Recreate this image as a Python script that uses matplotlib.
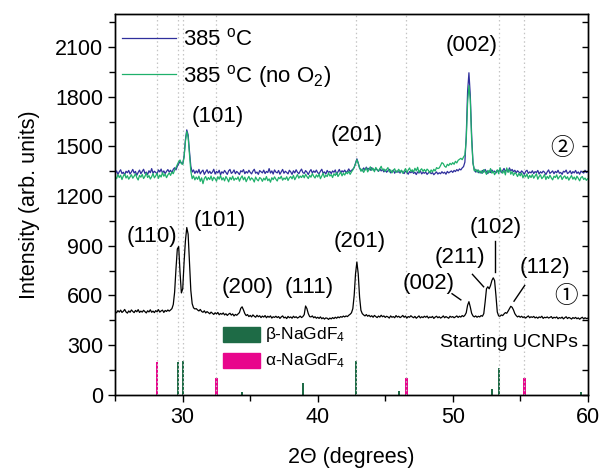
import numpy as np
import matplotlib
matplotlib.use("Agg")
import matplotlib.pyplot as plt
from matplotlib.patches import Rectangle
from matplotlib.ticker import MultipleLocator

plt.rcParams['font.family'] = ['Liberation Sans', 'DejaVu Sans']
plt.rcParams['mathtext.fontset'] = 'custom'
plt.rcParams['mathtext.rm'] = 'Liberation Sans'
plt.rcParams['mathtext.it'] = 'Liberation Sans:italic'

# 2-theta grid: 25.0 .. 60.0 in 0.1 degree steps
two_theta = np.round(np.arange(250, 601) / 10.0, 1)

# Starting UCNPs (black)
start_ucnps = [
    502, 495, 508, 499, 511, 497, 504, 515, 500, 493,
    506, 498, 512, 503, 496, 509, 501, 514, 497, 505,
    499, 510, 502, 494, 507, 500, 513, 498, 505, 496,
    508, 501, 514, 499, 506, 511, 497, 509, 503, 512,
    505, 512, 520, 545, 620, 760, 880, 895, 740, 615,
    640, 800, 930, 1010, 970, 800, 630, 550, 525, 518,
    520, 512, 506, 515, 503, 498, 507, 494, 502, 496,
    489, 499, 492, 485, 495, 488, 497, 483, 491, 486,
    494, 482, 489, 479, 487, 492, 481, 488, 476, 485,
    480, 488, 496, 522, 531, 512, 490, 478, 484, 472,
    479, 470, 482, 474, 468, 480, 471, 477, 466, 475,
    469, 478, 465, 474, 468, 476, 463, 471, 467, 474,
    466, 472, 461, 470, 476, 464, 469, 460, 473, 465,
    470, 462, 474, 466, 471, 463, 468, 475, 466, 472,
    484, 536, 520, 490, 472, 470, 476, 465, 471, 462,
    468, 461, 470, 459, 465, 457, 464, 462, 455, 463,
    458, 466, 460, 468, 462, 470, 465, 472, 468, 475,
    470, 476, 472, 480, 486, 495, 520, 600, 730, 802,
    730, 590, 510, 490, 482, 476, 484, 474, 480, 471,
    477, 468, 479, 472, 466, 475, 469, 480, 471, 476,
    467, 474, 470, 463, 476, 468, 472, 465, 478, 469,
    474, 466, 471, 479, 468, 475, 463, 472, 468, 477,
    470, 465, 473, 462, 469, 476, 464, 471, 466, 474,
    468, 475, 463, 470, 466, 473, 461, 469, 474, 465,
    471, 463, 468, 476, 465, 472, 467, 462, 474, 468,
    472, 465, 470, 476, 467, 474, 469, 478, 472, 480,
    495, 540, 562, 530, 492, 476, 470, 476, 468, 474,
    470, 478, 474, 490, 560, 640, 652, 640, 660, 690,
    706, 690, 600, 500, 476, 474, 482, 478, 488, 496,
    492, 505, 520, 534, 528, 512, 490, 478, 470, 475,
    468, 474, 466, 471, 463, 470, 476, 465, 471, 467,
    473, 464, 469, 462, 470, 466, 474, 461, 468, 465,
    470, 463, 467, 472, 461, 468, 464, 470, 459, 466,
    462, 469, 458, 465, 471, 460, 467, 463, 457, 466,
    461, 467, 459, 464, 456, 463, 468, 458, 465, 460,
    462,
]

# 385 C (blue)
anneal_385 = [
    1338, 1352, 1331, 1347, 1359, 1336, 1344, 1328, 1350, 1341,
    1355, 1333, 1346, 1361, 1339, 1349, 1326, 1343, 1357, 1335,
    1348, 1362, 1337, 1345, 1330, 1353, 1341, 1366, 1338, 1350,
    1343, 1334, 1358, 1346, 1363, 1339, 1352, 1336, 1349, 1360,
    1345, 1356, 1340, 1362, 1371, 1358, 1380, 1395, 1410, 1400,
    1395, 1440, 1540, 1600, 1570, 1470, 1380, 1345, 1358, 1337,
    1352, 1340, 1361, 1334, 1348, 1357, 1331, 1346, 1359, 1338,
    1350, 1336, 1345, 1362, 1333, 1349, 1340, 1356, 1329, 1347,
    1338, 1355, 1343, 1331, 1352, 1361, 1337, 1344, 1358, 1335,
    1349, 1341, 1330, 1353, 1346, 1360, 1335, 1348, 1339, 1356,
    1343, 1334, 1351, 1362, 1338, 1345, 1331, 1354, 1347, 1340,
    1357, 1336, 1349, 1342, 1366, 1339, 1352, 1333, 1358, 1345,
    1340, 1355, 1332, 1347, 1361, 1338, 1350, 1343, 1334, 1356,
    1346, 1331, 1353, 1340, 1359, 1344, 1335, 1351, 1363, 1342,
    1337, 1354, 1345, 1330, 1348, 1360, 1339, 1352, 1343, 1357,
    1341, 1335, 1350, 1362, 1338, 1346, 1333, 1355, 1342, 1349,
    1336, 1352, 1344, 1358, 1331, 1347, 1361, 1340, 1353, 1345,
    1357, 1342, 1350, 1364, 1348, 1355, 1362, 1372, 1398, 1425,
    1400, 1368, 1360, 1352, 1370, 1358, 1375, 1361, 1368, 1356,
    1372, 1360, 1355, 1367, 1358, 1349, 1365, 1352, 1361, 1346,
    1358, 1344, 1353, 1362, 1340, 1349, 1357, 1338, 1352, 1345,
    1347, 1339, 1355, 1343, 1336, 1351, 1345, 1332, 1348, 1341,
    1350, 1337, 1344, 1330, 1346, 1339, 1352, 1334, 1343, 1338,
    1345, 1331, 1340, 1347, 1335, 1342, 1329, 1338, 1346, 1333,
    1341, 1335, 1347, 1338, 1344, 1332, 1349, 1340, 1346, 1352,
    1343, 1355, 1348, 1360, 1352, 1364, 1358, 1370, 1378, 1405,
    1560, 1830, 1945, 1810, 1570, 1400, 1358, 1345, 1358, 1341,
    1350, 1338, 1355, 1344, 1361, 1347, 1336, 1353, 1342, 1358,
    1345, 1351, 1339, 1356, 1348, 1362, 1341, 1354, 1367, 1350,
    1358, 1345, 1370, 1352, 1361, 1347, 1356, 1340, 1353, 1345,
    1338, 1352, 1344, 1331, 1349, 1356, 1337, 1346, 1340, 1353,
    1336, 1348, 1342, 1355, 1333, 1347, 1339, 1351, 1344, 1330,
    1346, 1358, 1337, 1344, 1352, 1335, 1349, 1341, 1356, 1338,
    1343, 1331, 1350, 1345, 1357, 1336, 1342, 1353, 1334, 1348,
    1340, 1355, 1337, 1346, 1332, 1351, 1344, 1339, 1356, 1342,
    1347,
]

# 385 C, no O2 (green)
anneal_385_no_o2 = [
    1318, 1305, 1330, 1312, 1326, 1300, 1321, 1334, 1309, 1323,
    1302, 1316, 1329, 1308, 1320, 1335, 1311, 1297, 1325, 1314,
    1331, 1306, 1319, 1340, 1312, 1324, 1303, 1317, 1336, 1310,
    1322, 1338, 1307, 1327, 1315, 1342, 1320, 1333, 1311, 1328,
    1340, 1325, 1346, 1335, 1358, 1372, 1390, 1408, 1418, 1395,
    1392, 1435, 1530, 1590, 1555, 1450, 1350, 1305, 1322, 1298,
    1315, 1301, 1320, 1289, 1310, 1275, 1306, 1318, 1296, 1312,
    1300, 1321, 1293, 1314, 1305, 1290, 1317, 1302, 1324, 1297,
    1311, 1292, 1318, 1304, 1286, 1313, 1299, 1320, 1295, 1308,
    1301, 1316, 1290, 1309, 1322, 1298, 1314, 1287, 1305, 1319,
    1296, 1310, 1302, 1285, 1315, 1300, 1292, 1312, 1306, 1289,
    1308, 1297, 1318, 1293, 1304, 1284, 1311, 1299, 1316, 1302,
    1291, 1313, 1305, 1320, 1296, 1309, 1301, 1317, 1294, 1310,
    1318, 1304, 1325, 1299, 1314, 1330, 1308, 1321, 1312, 1327,
    1310, 1332, 1318, 1306, 1325, 1314, 1336, 1320, 1309, 1328,
    1315, 1333, 1305, 1322, 1338, 1312, 1326, 1318, 1340, 1321,
    1330, 1312, 1335, 1324, 1342, 1318, 1331, 1345, 1322, 1338,
    1327, 1344, 1335, 1350, 1331, 1346, 1358, 1375, 1395, 1420,
    1398, 1372, 1350, 1364, 1343, 1358, 1370, 1346, 1362, 1377,
    1355, 1368, 1347, 1373, 1360, 1351, 1366, 1380, 1357, 1364,
    1349, 1361, 1372, 1346, 1358, 1340, 1355, 1365, 1343, 1350,
    1362, 1344, 1356, 1338, 1351, 1366, 1342, 1357, 1370, 1348,
    1359, 1345, 1368, 1352, 1374, 1343, 1357, 1365, 1349, 1361,
    1348, 1363, 1355, 1340, 1358, 1346, 1362, 1351, 1372, 1366,
    1370, 1385, 1402, 1396, 1380, 1374, 1392, 1384, 1398, 1390,
    1402, 1392, 1410, 1400, 1416, 1422, 1428, 1420, 1436, 1448,
    1540, 1760, 1868, 1780, 1540, 1400, 1352, 1362, 1345, 1358,
    1340, 1352, 1337, 1360, 1348, 1331, 1355, 1342, 1366, 1338,
    1350, 1329, 1346, 1358, 1335, 1372, 1349, 1338, 1355, 1328,
    1370, 1344, 1360, 1332, 1348, 1325, 1341, 1334, 1318, 1337,
    1322, 1339, 1310, 1328, 1316, 1334, 1306, 1325, 1312, 1330,
    1308, 1321, 1335, 1302, 1318, 1328, 1305, 1315, 1330, 1300,
    1319, 1306, 1326, 1310, 1298, 1320, 1312, 1328, 1303, 1316,
    1325, 1300, 1314, 1322, 1305, 1317, 1296, 1311, 1324, 1302,
    1315, 1298, 1320, 1307, 1292, 1312, 1318, 1300, 1309, 1295,
    1305,
]

# reference stick patterns
beta_pos = [29.65, 30.05, 34.4, 38.9, 42.8, 46.05, 52.9, 53.45, 59.5]
beta_int = [195, 205, 15, 72, 203, 25, 33, 162, 15]
alpha_pos = [28.1, 32.5, 46.55, 55.3]
alpha_int = [200, 100, 100, 100]
guide_pos = [28.1, 29.65, 30.05, 32.5, 42.8, 46.55, 53.45, 55.3]

# annotations: (label, x, y)
peak_labels = [
    ("(101)", 32.6, 1680), ("(201)", 42.9, 1565), ("(002)", 51.4, 2110),
    ("(110)", 27.7, 957), ("(101)", 32.75, 1050), ("(200)", 34.8, 646),
    ("(111)", 39.35, 646), ("(201)", 43.1, 926), ("(002)", 48.25, 670),
    ("(211)", 50.55, 828), ("(102)", 53.2, 1012), ("(112)", 56.8, 767),
]
leader_lines = [
    ((49.95, 50.6), (610, 573)),
    ((51.46, 52.29), (727, 652)),
    ((53.16, 53.16), (929, 741)),
    ((55.33, 54.54), (660, 565)),
]

BLUE = "#2f2f9c"
GREEN = "#1fb06b"
BETA = "#1e6b46"
ALPHA = "#e8068c"

fig = plt.figure(figsize=(6.02, 4.68), dpi=100)
ax = fig.add_axes([0.1914, 0.1566, 0.7849, 0.8135])

ax.bar(beta_pos, beta_int, width=0.15, color=BETA, zorder=2)
ax.bar(alpha_pos, alpha_int, width=0.2, color=ALPHA, zorder=2)
for p in guide_pos:
    ax.axvline(p, color="#c4c4c4", lw=0.9, ls=(0, (1.2, 2.2)), zorder=2.5)

ax.plot(two_theta, start_ucnps, color="black", lw=0.9, zorder=3)
l1, = ax.plot(two_theta, anneal_385, color=BLUE, lw=0.9, zorder=3, label="385 $^{\\mathrm{o}}$C")
l2, = ax.plot(two_theta, anneal_385_no_o2, color=GREEN, lw=0.9, zorder=3.1,
              label="385 $^{\\mathrm{o}}$C (no O$_2$)")

for lab, x, y in peak_labels:
    ax.text(x, y, lab, fontsize=16, ha="center", va="center", zorder=4)
for xs, ys in leader_lines:
    ax.plot(xs, ys, color="black", lw=1.0, zorder=4)

ax.text(58.1, 1490, "\u2461", fontsize=17, ha="center", va="center",
        family=["Noto Sans CJK JP", "DejaVu Sans"])
ax.text(58.4, 595, "\u2460", fontsize=17, ha="center", va="center",
        family=["Noto Sans CJK JP", "DejaVu Sans"])

leg = ax.legend(handles=[l1, l2], loc="upper left", bbox_to_anchor=(0.015, 0.962),
                frameon=False, fontsize=16, handlelength=2.4, handletextpad=0.32,
                borderpad=0, borderaxespad=0, labelspacing=0.55)

# bottom stick legend
ax.add_patch(Rectangle((0.228, 0.139), 0.078, 0.039, transform=ax.transAxes,
                       color=BETA, zorder=4))
ax.add_patch(Rectangle((0.228, 0.070), 0.078, 0.039, transform=ax.transAxes,
                       color=ALPHA, zorder=4))
ax.text(0.317, 0.158, "\u03b2-NaGdF$_4$", transform=ax.transAxes, fontsize=12.5,
        ha="left", va="center")
ax.text(0.317, 0.089, "\u03b1-NaGdF$_4$", transform=ax.transAxes, fontsize=12.5,
        ha="left", va="center")
ax.text(0.833, 0.137, "Starting UCNPs", transform=ax.transAxes, fontsize=14,
        ha="center", va="center")

ax.set_xlim(25, 60)
ax.set_ylim(0, 2300)
ax.xaxis.set_major_locator(MultipleLocator(10))
ax.xaxis.set_minor_locator(MultipleLocator(5))
ax.yaxis.set_major_locator(MultipleLocator(300))
ax.yaxis.set_minor_locator(MultipleLocator(150))
ax.tick_params(axis="both", which="major", direction="out", length=5, width=1,
               labelsize=15.5, top=False, right=False)
ax.tick_params(axis="both", which="minor", direction="out", length=4, width=1,
               top=False, right=False)

ax2 = ax.twinx()
ax2.set_ylim(0, 2300)
ax2.yaxis.set_major_locator(MultipleLocator(300))
ax2.yaxis.set_minor_locator(MultipleLocator(150))
ax2.tick_params(axis="y", which="both", direction="in", length=4, width=1,
                labelright=False)

for a in (ax, ax2):
    for s in a.spines.values():
        s.set_linewidth(1.0)

ax.set_xlabel("2\u0398 (degrees)", fontsize=15.5, labelpad=14)
ax.set_ylabel("Intensity (arb. units)", fontsize=15.5, labelpad=11)

fig.savefig("out.png", dpi=100)
